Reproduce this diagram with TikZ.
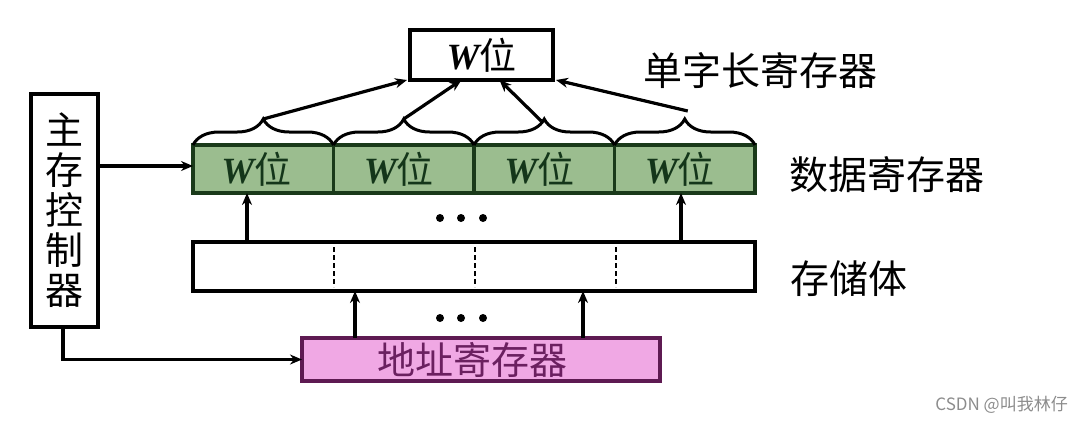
\documentclass[tikz,border=0pt]{standalone}
\usepackage{fontspec}
\setmainfont{Liberation Serif}
\newfontfamily\cjk{Noto Sans CJK SC}
\usetikzlibrary{arrows.meta,decorations.pathreplacing,calc}
\definecolor{gfill}{HTML}{9BBD8F}
\definecolor{gline}{HTML}{1A3A1A}
\definecolor{gtext}{HTML}{14361A}
\definecolor{pfill}{HTML}{F0A8E4}
\definecolor{pline}{HTML}{5E1A52}
\definecolor{ptext}{HTML}{6B2060}
\newcommand{\Wwei}{{\bfseries\itshape W}{\cjk 位}}
\begin{document}
\begin{tikzpicture}[x=1pt,y=-1pt,
  box/.style={draw=black,line width=3.4pt,inner sep=0pt,outer sep=0pt},
  cell/.style={box,draw=gline,fill=gfill,text=gtext,minimum width=140.5pt,minimum height=48pt,font=\fontsize{37}{38}\selectfont},
  lbl/.style={anchor=west,inner sep=0pt,font=\cjk\fontsize{39}{40}\selectfont},
  arr/.style={line width=3.2pt,-{Stealth[length=12pt,width=10pt]}},
  brc/.style={line width=3pt,decorate,decoration={brace,amplitude=26pt}}]
\useasboundingbox (0,0) rectangle (1076,424);
% top single word register
\node[box,minimum width=143pt,minimum height=50pt,font=\fontsize{37}{38}\selectfont] (top) at (481.5,55) {\Wwei};
\node[lbl] (lt) at (643,71) {单字长寄存器};
% data register cells
\node[cell] (c1) at (263.25,169) {\hspace*{-14pt}\Wwei};
\node[cell] (c2) at (403.75,169) {\hspace*{-10pt}\Wwei};
\node[cell] (c3) at (544.25,169) {\hspace*{-10pt}\Wwei};
\node[cell] (c4) at (684.75,169) {\hspace*{-10pt}\Wwei};
\node[lbl] (ld) at (789,175) {数据寄存器};
% braces
\foreach \c in {c1,c2,c3,c4}{
  \draw[brc] (\c.north west) -- (\c.north east);
}
\coordinate (t1) at ($(c1.north)+(0,-26)$);
\coordinate (t2) at ($(c2.north)+(0,-26)$);
\coordinate (t3) at ($(c3.north)+(-3,-24)$);
\coordinate (t4) at ($(c4.north)+(3,-34)$);
\draw[arr] (t1) -- ($(top.south west)+(-3,0)$);
\draw[arr] (t2) -- ($(top.south)+(-20,0)$);
\draw[arr] (t3) -- ($(top.south)+(18,0)$);
\draw[arr] (t4) -- ($(top.south east)+(3,0)$);
% storage
\node[box,minimum width=562pt,minimum height=49pt] (mem) at (474,266.5) {};
\foreach \x in {334,475,616}{
  \draw[dashed,line width=1.2pt,dash pattern=on 5pt off 3pt] (\x,247) -- (\x,287);
}
\node[lbl] (ls) at (790,279) {存储体};
\draw[arr] (mem.north -| 247,0) -- (c1.south -| 247,0);
\draw[arr] (mem.north -| 681,0) -- (c4.south -| 681,0);
\foreach \x in {440,461,483}{ \fill (\x,218) circle (4pt); \fill (\x,318) circle (4pt); }
% address register
\node[box,draw=pline,fill=pfill,text=ptext,minimum width=358pt,minimum height=43pt,font=\cjk\fontsize{38}{40}\selectfont] (addr) at (481,359.5) {\hspace*{-18pt}地址寄存器};
\draw[arr] (addr.north -| 355,0) -- (mem.south -| 355,0);
\draw[arr] (addr.north -| 583,0) -- (mem.south -| 583,0);
% controller
\node[box,minimum width=67pt,minimum height=233pt,align=center,font=\cjk\fontsize{38}{40}\selectfont] (ctrl) at (64.5,210.5) {主\\存\\控\\制\\器};
\draw[arr] (ctrl.east |- 0,166) -- (c1.west |- 0,166);
\draw[arr] (ctrl.south -| 63,0) |- (addr.west);
% watermark label
\node[anchor=east,inner sep=0pt,text=black!45,font=\cjk\fontsize{17}{18}\selectfont] (csdn) at (1068,405) {CSDN @叫我林仔};
\end{tikzpicture}
\end{document}
